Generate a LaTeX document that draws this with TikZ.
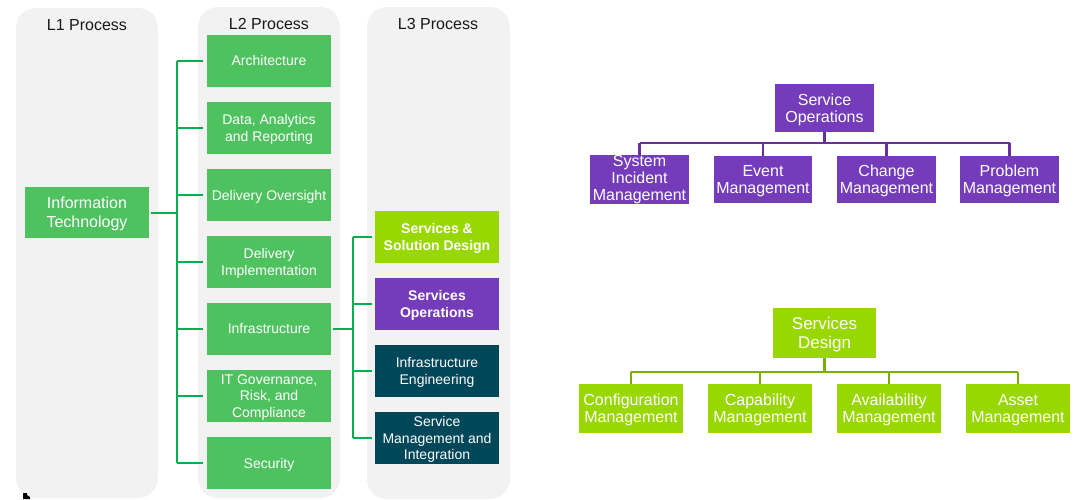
\documentclass[tikz,border=0pt]{standalone}
\usepackage{fontspec}
\setmainfont{Liberation Sans}
\usetikzlibrary{calc}
\definecolor{panelgray}{HTML}{F2F2F2}
\definecolor{boxgreen}{HTML}{4EC25F}
\definecolor{linkgreen}{HTML}{00B050}
\definecolor{lime}{HTML}{99D700}
\definecolor{limeline}{HTML}{7CB000}
\definecolor{violet}{HTML}{743CBA}
\definecolor{violetline}{HTML}{6A2F9E}
\definecolor{teal}{HTML}{00475A}
\begin{document}
\begin{tikzpicture}[x=1pt,y=-1pt,
  panel/.style={fill=panelgray,draw=none,rounded corners=20pt},
  title/.style={font=\fontsize{16}{19}\selectfont,text=black!90},
  box/.style={rectangle,inner sep=0pt,align=center,text=white,text depth=0pt,
    font=\fontsize{14}{16.7}\selectfont},
  l1box/.style={box,fill=boxgreen,minimum width=124pt,minimum height=51pt,
    font=\fontsize{16}{19.3}\selectfont},
  l2box/.style={box,fill=boxgreen,minimum width=124pt,minimum height=52pt},
  l3lime/.style={box,fill=lime,minimum width=124pt,minimum height=52pt,
    font=\bfseries\fontsize{14}{16.7}\selectfont},
  l3violet/.style={l3lime,fill=violet},
  l3teal/.style={box,fill=teal,minimum width=124pt,minimum height=52pt},
  opbox/.style={box,fill=violet,minimum width=99pt,minimum height=47pt,
    font=\fontsize{16}{16.7}\selectfont},
  dsbox/.style={box,fill=lime,minimum width=104pt,minimum height=49pt,
    font=\fontsize{16}{16.7}\selectfont},
  link/.style={draw=linkgreen,line width=2pt},
  oplink/.style={draw=violetline,line width=2.6pt},
  dslink/.style={draw=limeline,line width=2.6pt}]
\useasboundingbox (0,0) rectangle (1085,499);

% column panels
\fill[panel] (16,8) rectangle (158,498);
\fill[panel] (198,7) rectangle (340,498);
\fill[panel] (367,7) rectangle (510,499);
\node[title] (t1) at (87,25) {L1 Process};
\node[title] (t2) at (269,24) {L2 Process};
\node[title] (t3) at (438,24) {L3 Process};

% level 1
\node[l1box] (it) at (87,212.5) {Information\\Technology};

% level 2
\node[l2box] (l2a) at (269,60.5) {Architecture};
\node[l2box] (l2b) at (269,128) {Data, Analytics\\and Reporting};
\node[l2box] (l2c) at (269,195) {Delivery Oversight};
\node[l2box] (l2d) at (269,262) {Delivery\\Implementation};
\node[l2box] (l2e) at (269,328.5) {Infrastructure};
\node[l2box] (l2f) at (269,396) {IT Governance,\\Risk, and\\Compliance};
\node[l2box] (l2g) at (269,463) {Security};

% level 3
\node[l3lime] (l3a) at (437,237) {Services \&\\Solution Design};
\node[l3violet] (l3b) at (437,304) {Services\\Operations};
\node[l3teal] (l3c) at (437,371) {Infrastructure\\Engineering};
\node[l3teal] (l3d) at (437,438) {Service\\Management and\\Integration};

% L1 -> L2 bracket
\coordinate (trA) at (177,0);
\draw[link,shorten <=2pt] (it.east) -- (it.east -| trA);
\draw[link] (l2a.west -| trA) -- (l2g.west -| trA);
\foreach \n in {a,b,c,d,e,f,g}
  \draw[link,shorten >=4pt] (l2\n.west -| trA) -- (l2\n.west);

% L2 -> L3 bracket
\coordinate (trB) at (353,0);
\draw[link,shorten <=2pt] (l2e.east) -- (l2e.east -| trB);
\draw[link] (l3a.west -| trB) -- (l3d.west -| trB);
\foreach \n in {a,b,c,d}
  \draw[link,shorten >=3pt] (l3\n.west -| trB) -- (l3\n.west);

% Service Operations tree
\node[opbox,minimum height=48pt] (so) at (824.5,108) {Service\\Operations};
\node[opbox,text depth=3.5pt] (so1) at (639.5,179.5) {System\\Incident\\Management};
\node[opbox,minimum width=98pt] (so2) at (763,179.5) {Event\\Management};
\node[opbox] (so3) at (886.5,179.5) {Change\\Management};
\node[opbox] (so4) at (1009.5,179.5) {Problem\\Management};
\coordinate (barO) at (0,143);
\draw[oplink] (so.south) -- (so.south |- barO);
\draw[oplink] (so1.north |- barO) -- (so4.north |- barO);
\foreach \n in {1,2,3,4}
  \draw[oplink] (so\n.north |- barO) -- (so\n.north);

% Services Design tree
\node[dsbox,minimum width=103pt,minimum height=50pt,
  font=\fontsize{17}{19}\selectfont] (sd) at (824.5,333) {Services\\Design};
\node[dsbox] (sd1) at (631,408.5) {Configuration\\Management};
\node[dsbox] (sd2) at (760,408.5) {Capability\\Management};
\node[dsbox] (sd3) at (889,408.5) {Availability\\Management};
\node[dsbox] (sd4) at (1018,408.5) {Asset\\Management};
\coordinate (barD) at (0,372);
\draw[dslink] (sd.south) -- (sd.south |- barD);
\draw[dslink] (sd1.north |- barD) -- (sd4.north |- barD);
\foreach \n in {1,2,3,4}
  \draw[dslink] (sd\n.north |- barD) -- (sd\n.north);

% small pointer mark at the lower left corner
\fill[black] (23,493) -- (27,493) -- (27,495) -- (30,497) -- (30,499) -- (23,499) -- cycle;
\end{tikzpicture}
\end{document}
